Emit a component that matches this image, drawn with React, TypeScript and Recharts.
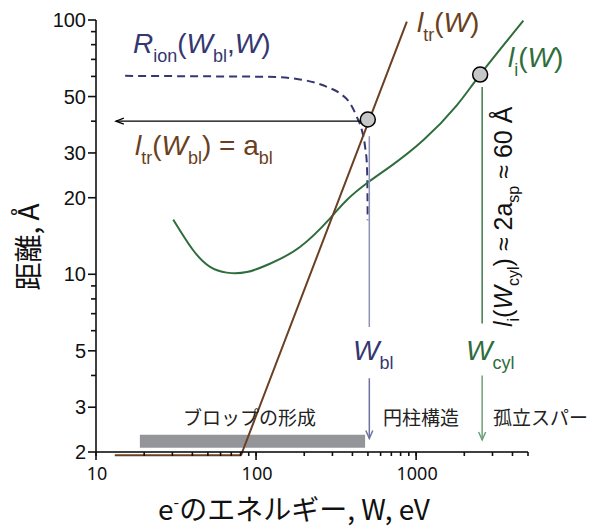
import React from 'react';
import { LineChart, Line, XAxis, YAxis, ReferenceLine, ReferenceDot, ReferenceArea } from 'recharts';

// l_i(W) green curve
const liW = [30.4, 40.6, 51.6, 65.6, 87.5, 122, 188, 290, 369, 492, 688, 1111, 1795, 2512, 4677];
const liV = [16.4, 12.4, 10.7, 10.15, 10.2, 11.0, 12.8, 16.6, 19.6, 22.8, 26.5, 33.7, 46.2, 61, 99.4];

// l_tr(W) brown line (rising part)
const ltrW = [82, 290, 875];
const ltrV = [2.0, 16.0, 98.5];

// R_ion(W_bl, W) dashed curve
const rionW = [15.2, 60, 116.6, 188, 277, 335, 387, 426, 458, 480, 492, 496, 498];
const rionV = [60.3, 60, 59.8, 58.4, 54.6, 51.4, 47, 41.6, 36.9, 31.7, 27.3, 22.8, 16.3];

const xTicks = [10, 20, 30, 40, 50, 60, 70, 80, 90, 100, 200, 300, 400, 500, 600, 700, 800, 900, 1000, 2000, 3000, 4000, 5000];
const xLabels = [10, 100, 1000];
const yTicks = [2, 3, 4, 5, 6, 7, 8, 9, 10, 20, 30, 40, 50, 60, 70, 80, 90, 100];
const yLabels = [2, 3, 5, 10, 20, 30, 50, 100];

const liData = liW.map((w, i) => ({ w, v: liV[i] }));
const ltrData = ltrW.map((w, i) => ({ w, v: ltrV[i] }));
const rionData = rionW.map((w, i) => ({ w, v: rionV[i] }));

const BROWN = '#6a3f22';
const GREEN = '#2f6d3c';
const NAVY = '#353770';
const LAT = '"Liberation Sans", Arial, sans-serif';
const JP = '"Noto Sans CJK JP", "Noto Sans", sans-serif';

const YTick = (p: any) => {
  const { x, y, payload } = p;
  const ax = x + 9;
  const major = yLabels.includes(payload.value);
  const len = major ? 8 : 5;
  return (
    <g>
      <rect x={ax - len} y={y - 0.8} width={len} height={1.6} fill="#111" stroke="none" />
      {major && (
        <text x={ax - 10} y={y + 7} textAnchor="end" fontSize={20} fontFamily={LAT} fill="#111">
          {payload.value}
        </text>
      )}
    </g>
  );
};

// minor x ticks come from the native tickLine (4px); majors get a longer stub
const XTick = (p: any) => {
  const { x, y, payload } = p;
  const ay = y - 4;
  const major = xLabels.includes(payload.value);
  if (!major) return <g />;
  return (
    <g>
      <rect x={x - 0.8} y={ay} width={1.6} height={8} fill="#111" stroke="none" />
      <text x={x + 1} y={ay + 28} textAnchor="middle" fontSize={18} fontFamily='"Noto Sans", sans-serif' fill="#111">
        {payload.value}
      </text>
    </g>
  );
};

const arrow = (color: string, w: number, len: number, half: number) => (p: any) => {
  const { x1, y1, x2, y2 } = p;
  const a = Math.atan2(y2 - y1, x2 - x1);
  const bx = x2 - len * Math.cos(a);
  const by = y2 - len * Math.sin(a);
  const nx = -Math.sin(a) * half;
  const ny = Math.cos(a) * half;
  return (
    <g>
      <line x1={x1} y1={y1} x2={x2} y2={y2} stroke={color} strokeWidth={w} />
      <path d={`M${bx + nx},${by + ny} L${x2},${y2} L${bx - nx},${by - ny}`} fill="none" stroke={color} strokeWidth={w} />
    </g>
  );
};

type Part = [string, 'n' | 'i' | 's'];
const Rich = ({ x, y, fill, size = 28, sub = 18, shift = 9, parts }: { x: number; y: number; fill: string; size?: number; sub?: number; shift?: number; parts: Part[] }) => {
  let off = 0;
  return (
    <text x={x} y={y} fill={fill} fontSize={size} fontFamily={LAT} xmlSpace="preserve">
      {parts.map(([t, k], i) => {
        const target = k === 's' ? shift : 0;
        const dy = target - off;
        off = target;
        return (
          <tspan key={i} dy={dy} fontSize={k === 's' ? sub : size} fontStyle={k === 'i' ? 'italic' : 'normal'}>
            {t}
          </tspan>
        );
      })}
    </text>
  );
};

export default function App() {
  return (
    <div style={{ position: 'relative', width: 590, height: 521 }}>
      <LineChart width={590} height={521} margin={{ top: 12, right: 70, bottom: 17, left: 28 }}>
        <XAxis
          dataKey="w"
          type="number"
          scale="log"
          domain={[10, 5000]}
          ticks={xTicks}
          interval={0}
          height={60}
          tickSize={4}
          tickMargin={0}
          tickLine={{ stroke: '#111', strokeWidth: 1.6 }}
          axisLine={{ stroke: '#000', strokeWidth: 1.5 }}
          tick={<XTick />}
        />
        <YAxis
          type="number"
          scale="log"
          domain={[2, 100]}
          ticks={yTicks}
          interval={0}
          width={60}
          tickSize={8}
          tickMargin={1}
          tickLine={false}
          axisLine={{ stroke: '#000', strokeWidth: 1.5 }}
          tick={<YTick />}
        />
        <ReferenceArea x1={18.8} x2={480} y1={2.08} y2={2.34} fill="#939598" fillOpacity={1} stroke="none" />
        <ReferenceLine segment={[{ x: 13.1, y: 1.94 }, { x: 80.5, y: 1.94 }]} stroke={BROWN} strokeWidth={2} ifOverflow="visible" />
        <ReferenceLine segment={[{ x: 80.5, y: 1.94 }, { x: 82, y: 2 }]} stroke={BROWN} strokeWidth={2} ifOverflow="visible" />
        <Line data={rionData} dataKey="v" type="monotone" stroke={NAVY} strokeWidth={2} strokeDasharray="8 5" dot={false} isAnimationActive={false} />
        <Line data={liData} dataKey="v" type="natural" stroke={GREEN} strokeWidth={2} dot={false} isAnimationActive={false} />
        <Line data={ltrData} dataKey="v" type="linear" stroke={BROWN} strokeWidth={2} dot={false} isAnimationActive={false} />
        <ReferenceLine segment={[{ x: 453, y: 40 }, { x: 13.3, y: 40 }]} shape={arrow('#000', 1.2, 8, 3)} />
        <ReferenceLine segment={[{ x: 510, y: 34.9 }, { x: 510, y: 6.2 }]} stroke="#8e92b8" strokeWidth={1.5} />
        <ReferenceLine segment={[{ x: 510, y: 3.9 }, { x: 510, y: 2.26 }]} shape={arrow('#6e72a0', 1.5, 8, 3.5)} />
        <ReferenceLine segment={[{ x: 2585, y: 54.5 }, { x: 2585, y: 6.4 }]} stroke="#3d7a4a" strokeWidth={1.5} />
        <ReferenceLine segment={[{ x: 2585, y: 4.0 }, { x: 2585, y: 2.23 }]} shape={arrow('#6e9f78', 1.5, 8, 3.5)} />
        <ReferenceDot x={499} y={40.6} r={7.5} fill="#c6c7c9" stroke="#000" strokeWidth={1.5} />
        <ReferenceDot x={2512} y={61} r={7.5} fill="#c6c7c9" stroke="#000" strokeWidth={1.5} />
      </LineChart>
      <svg width={590} height={521} style={{ position: 'absolute', left: 0, top: 0, pointerEvents: 'none', overflow: 'visible' }}>
        <Rich x={125} y={45} fill={NAVY} parts={[['R', 'i'], ['ion', 's'], ['(', 'n'], ['W', 'i'], ['bl', 's'], [',', 'n'], ['W', 'i'], [')', 'n']]} />
        <Rich x={127} y={147} fill={BROWN} parts={[['l', 'i'], ['tr', 's'], ['(', 'n'], ['W', 'i'], ['bl', 's'], [') = a', 'n'], ['bl', 's']]} />
        <Rich x={409} y={24} fill={BROWN} parts={[['l', 'i'], ['tr', 's'], ['(', 'n'], ['W', 'i'], [')', 'n']]} />
        <Rich x={500} y={59} fill={GREEN} parts={[['l', 'i'], ['i', 's'], ['(', 'n'], ['W', 'i'], [')', 'n']]} />
        <Rich x={345} y={352} fill={NAVY} parts={[['W', 'i'], ['bl', 's']]} />
        <Rich x={458} y={352} fill={GREEN} parts={[['W', 'i'], ['cyl', 's']]} />
        <g transform="translate(504,319) rotate(-90)">
          <Rich x={0} y={0} fill="#111" size={25} sub={16} shift={7} parts={[['l', 'i'], ['i', 's'], ['(', 'n'], ['W', 'i'], ['cyl', 's'], [') ≈ 2a', 'n'], ['sp', 's'], [' ≈ 60 Å', 'n']]} />
        </g>
        <text x={175} y={417} fontSize={19} fontFamily={JP} fill="#222">ブロップの形成</text>
        <text x={375} y={417} fontSize={19} fontFamily={JP} fill="#222">円柱構造</text>
        <text x={485} y={417} fontSize={19} fontFamily={JP} fill="#222">孤立スパー</text>
        <text transform="translate(31,239) rotate(-90)" textAnchor="middle" fontSize={28} fontFamily={JP} fill="#111">距離, Å</text>
        <text x={286} y={512} textAnchor="middle" fontSize={28} fontFamily={JP} fill="#111">
          e<tspan fontSize={16} dy={-12}>-</tspan><tspan dy={12}>のエネルギー, W, eV</tspan>
        </text>
      </svg>
    </div>
  );
}
